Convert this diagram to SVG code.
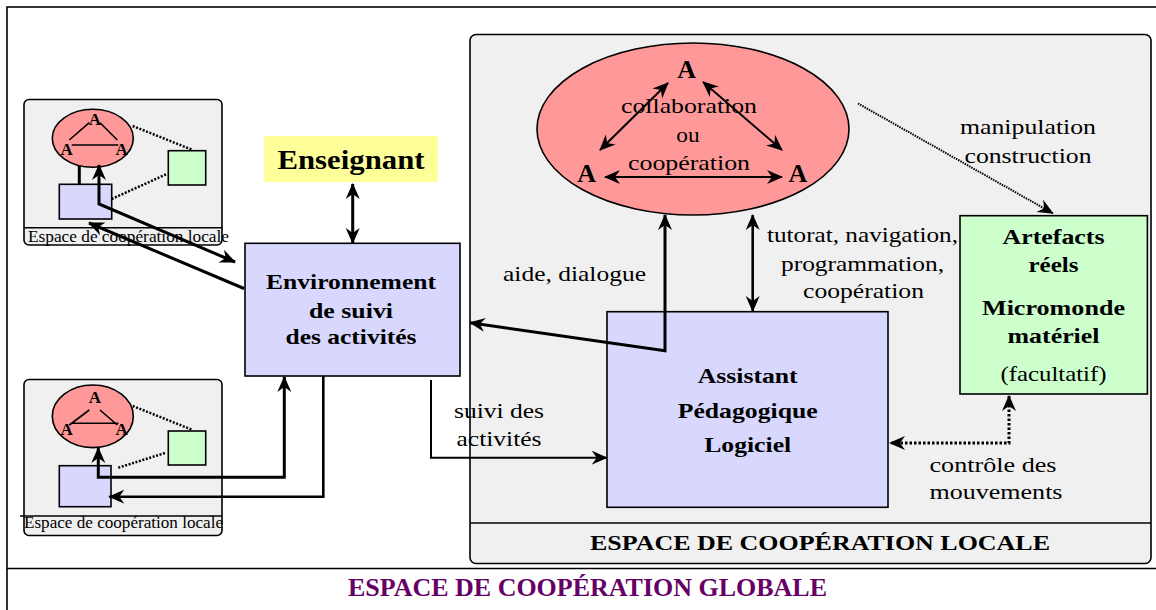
<svg xmlns="http://www.w3.org/2000/svg" width="1156" height="610" viewBox="0 0 1156 610">
<style>
text{font-family:"Liberation Serif","Times New Roman",serif;fill:#000}
.b{font-weight:bold}
.box{stroke:#000;stroke-width:1.6}
.lav{fill:#d8d8ff}
.grn{fill:#ccffcc}
.pnk{fill:#ff9999}
.gry{fill:#f0f0f0}
.ln{fill:none;stroke:#000}
.dot{fill:none;stroke:#000;stroke-width:2.5;stroke-dasharray:2 1.6}
</style>
<defs>
<marker id="ah" viewBox="0 0 16 16" refX="15" refY="8" markerWidth="16" markerHeight="16" markerUnits="userSpaceOnUse" orient="auto-start-reverse">
<path d="M0,1 L16,8 L0,15 L5,8 Z" fill="#000"/>
</marker>
</defs>
<rect x="7" y="7" width="1160" height="620" fill="#fff" stroke="#000" stroke-width="1.6"/>

<g id="global-label">
<line x1="7" y1="568.5" x2="1160" y2="568.5" stroke="#000" stroke-width="1.6"/>
<text x="348" y="596" font-size="25" class="b" style="fill:#660066" textLength="479" lengthAdjust="spacingAndGlyphs">ESPACE DE COOPÉRATION GLOBALE</text>
</g>

<g id="local-space-main">
<rect x="470" y="34.5" width="681" height="529" rx="6" class="box gry"/>
<line x1="470" y1="523" x2="1151" y2="523" stroke="#000" stroke-width="1.6"/>
<text x="820" y="550" font-size="22" class="b" text-anchor="middle" textLength="460" lengthAdjust="spacingAndGlyphs">ESPACE DE COOPÉRATION LOCALE</text>
</g>

<g id="local-space-top">
<rect x="24" y="99.5" width="198" height="145.5" rx="5" class="box gry"/>
<line x1="24" y1="227.7" x2="222" y2="227.7" stroke="#000" stroke-width="1.4"/>
<text x="28" y="241.7" font-size="17" textLength="201" lengthAdjust="spacingAndGlyphs">Espace de coopération locale</text>
<ellipse cx="92.8" cy="138.3" rx="40.5" ry="29" class="box pnk"/>
<text x="95" y="125" font-size="17" class="b" text-anchor="middle">A</text>
<text x="66.7" y="155" font-size="17" class="b" text-anchor="middle">A</text>
<text x="121.7" y="155" font-size="17" class="b" text-anchor="middle">A</text>
<path d="M89.3,122.7 L69.3,140 M100,122.7 L117.3,140 M71.7,145 L118.3,145" class="ln" stroke-width="1.6"/>
<rect x="59.3" y="184.3" width="52.4" height="34.7" class="box lav"/>
<rect x="168.3" y="150.7" width="37.4" height="34.3" class="box grn"/>
<line x1="132.7" y1="126" x2="192.7" y2="150" class="dot"/>
<line x1="111.7" y1="199" x2="166.7" y2="174" class="dot"/>
<line x1="79.3" y1="184.3" x2="79.3" y2="165.6" class="ln" stroke-width="3"/>
</g>

<g id="local-space-bottom">
<rect x="24" y="379.5" width="198" height="156" rx="5" class="box gry"/>
<line x1="20" y1="516" x2="222" y2="516" stroke="#000" stroke-width="1.4"/>
<text x="24" y="528.3" font-size="17" textLength="199" lengthAdjust="spacingAndGlyphs">Espace de coopération locale</text>
<ellipse cx="92.8" cy="416.3" rx="40.5" ry="31.3" class="box pnk"/>
<text x="95" y="403.3" font-size="17" class="b" text-anchor="middle">A</text>
<text x="66.7" y="435" font-size="17" class="b" text-anchor="middle">A</text>
<text x="121.7" y="435" font-size="17" class="b" text-anchor="middle">A</text>
<path d="M89.3,410 L69.3,425 M100,410 L117.3,425 M71,423.3 L118.3,423.3" class="ln" stroke-width="1.6"/>
<rect x="168.3" y="431" width="37.4" height="34" class="box grn"/>
<rect x="59.3" y="465.7" width="51.7" height="41" class="box lav"/>
<line x1="132.7" y1="406" x2="192.7" y2="430" class="dot"/>
<line x1="118.3" y1="467.7" x2="166" y2="452.7" class="dot"/>
</g>

<g id="enseignant">
<rect x="264" y="136" width="174" height="46" fill="#ffff99"/>
<text x="351" y="169" font-size="28" class="b" text-anchor="middle" textLength="147" lengthAdjust="spacingAndGlyphs">Enseignant</text>
</g>

<g id="environnement">
<rect x="245" y="243.3" width="215" height="132.7" class="box lav"/>
<text x="351" y="289" font-size="22" class="b" text-anchor="middle" textLength="170" lengthAdjust="spacingAndGlyphs">Environnement</text>
<text x="351" y="318" font-size="22" class="b" text-anchor="middle" textLength="84" lengthAdjust="spacingAndGlyphs">de suivi</text>
<text x="351" y="344" font-size="22" class="b" text-anchor="middle" textLength="131" lengthAdjust="spacingAndGlyphs">des activités</text>
</g>

<g id="collaboration">
<ellipse cx="693" cy="129" rx="156" ry="86" class="box pnk"/>
<text x="686.7" y="78" font-size="26" class="b" text-anchor="middle">A</text>
<text x="586.7" y="181.7" font-size="26" class="b" text-anchor="middle">A</text>
<text x="798" y="181.7" font-size="26" class="b" text-anchor="middle">A</text>
<text x="689" y="112.7" font-size="22" text-anchor="middle" textLength="136" lengthAdjust="spacingAndGlyphs">collaboration</text>
<text x="688" y="141.7" font-size="22" text-anchor="middle" textLength="23.3" lengthAdjust="spacingAndGlyphs">ou</text>
<text x="689" y="170" font-size="22" text-anchor="middle" textLength="122" lengthAdjust="spacingAndGlyphs">coopération</text>
</g>

<g id="assistant">
<rect x="607" y="311.7" width="281" height="195.6" class="box lav"/>
<text x="747.7" y="383" font-size="22" class="b" text-anchor="middle" textLength="100" lengthAdjust="spacingAndGlyphs">Assistant</text>
<text x="747.7" y="418" font-size="22" class="b" text-anchor="middle" textLength="140" lengthAdjust="spacingAndGlyphs">Pédagogique</text>
<text x="747.7" y="452" font-size="22" class="b" text-anchor="middle" textLength="87" lengthAdjust="spacingAndGlyphs">Logiciel</text>
</g>

<g id="artefacts">
<rect x="960" y="215.7" width="187.4" height="178.3" class="box grn"/>
<text x="1053.5" y="244" font-size="22" class="b" text-anchor="middle" textLength="102" lengthAdjust="spacingAndGlyphs">Artefacts</text>
<text x="1053.5" y="272.4" font-size="22" class="b" text-anchor="middle" textLength="50" lengthAdjust="spacingAndGlyphs">réels</text>
<text x="1053.5" y="314.7" font-size="22" class="b" text-anchor="middle" textLength="143" lengthAdjust="spacingAndGlyphs">Micromonde</text>
<text x="1053.5" y="342.7" font-size="22" class="b" text-anchor="middle" textLength="92" lengthAdjust="spacingAndGlyphs">matériel</text>
<text x="1053.5" y="380.5" font-size="22" text-anchor="middle" textLength="106" lengthAdjust="spacingAndGlyphs">(facultatif)</text>
</g>

<g id="connectors">
<path d="M352.7,184 L352.7,243" class="ln" stroke-width="3" marker-start="url(#ah)" marker-end="url(#ah)"/>
<path d="M235,262 L99,204 L99,165" class="ln" stroke-width="3" marker-start="url(#ah)" marker-end="url(#ah)"/>
<path d="M244,288.5 L89,223" class="ln" stroke-width="3" marker-end="url(#ah)"/>
<path d="M98.3,448 L98.3,477.3 L284.3,477.3 L284.3,377" class="ln" stroke-width="3" marker-start="url(#ah)" marker-end="url(#ah)"/>
<path d="M323.3,376 L323.3,496.7 L109.3,496.7" class="ln" stroke-width="2.6" marker-end="url(#ah)"/>
<path d="M665,215 L665,350.7 L470,322.7" class="ln" stroke-width="3" marker-start="url(#ah)" marker-end="url(#ah)"/>
<path d="M752.7,215 L752.7,311" class="ln" stroke-width="2.6" marker-start="url(#ah)" marker-end="url(#ah)"/>
<path d="M431,380 L431,457.7 L606.7,457.7" class="ln" stroke-width="2" marker-end="url(#ah)"/>
<path d="M858,103.5 L1052.8,213.3" class="ln" stroke-width="2" stroke-dasharray="1.5 1" marker-end="url(#ah)"/>
<path d="M1009,396 L1009,443 L890,443" class="ln" stroke-width="3" stroke-dasharray="2.5 2" marker-start="url(#ah)" marker-end="url(#ah)"/>
<path d="M668,83 L600,150" class="ln" stroke-width="2" marker-start="url(#ah)" marker-end="url(#ah)"/>
<path d="M703,82 L782,150" class="ln" stroke-width="2" marker-start="url(#ah)" marker-end="url(#ah)"/>
<path d="M605,177 L782,177" class="ln" stroke-width="2" marker-start="url(#ah)" marker-end="url(#ah)"/>
</g>

<g id="labels">
<text x="1028" y="134" font-size="22" text-anchor="middle" textLength="136" lengthAdjust="spacingAndGlyphs">manipulation</text>
<text x="1028" y="162.6" font-size="22" text-anchor="middle" textLength="127" lengthAdjust="spacingAndGlyphs">construction</text>
<text x="862.5" y="241.7" font-size="22" text-anchor="middle" textLength="191" lengthAdjust="spacingAndGlyphs">tutorat, navigation,</text>
<text x="862.5" y="271" font-size="22" text-anchor="middle" textLength="163" lengthAdjust="spacingAndGlyphs">programmation,</text>
<text x="863.5" y="298" font-size="22" text-anchor="middle" textLength="121" lengthAdjust="spacingAndGlyphs">coopération</text>
<text x="574.5" y="281" font-size="22" text-anchor="middle" textLength="143" lengthAdjust="spacingAndGlyphs">aide, dialogue</text>
<text x="499" y="418" font-size="22" text-anchor="middle" textLength="90" lengthAdjust="spacingAndGlyphs">suivi des</text>
<text x="499" y="446" font-size="22" text-anchor="middle" textLength="85" lengthAdjust="spacingAndGlyphs">activités</text>
<text x="929.5" y="472" font-size="22" textLength="127" lengthAdjust="spacingAndGlyphs">contrôle des</text>
<text x="929.5" y="499" font-size="22" textLength="133" lengthAdjust="spacingAndGlyphs">mouvements</text>
</g>
</svg>
